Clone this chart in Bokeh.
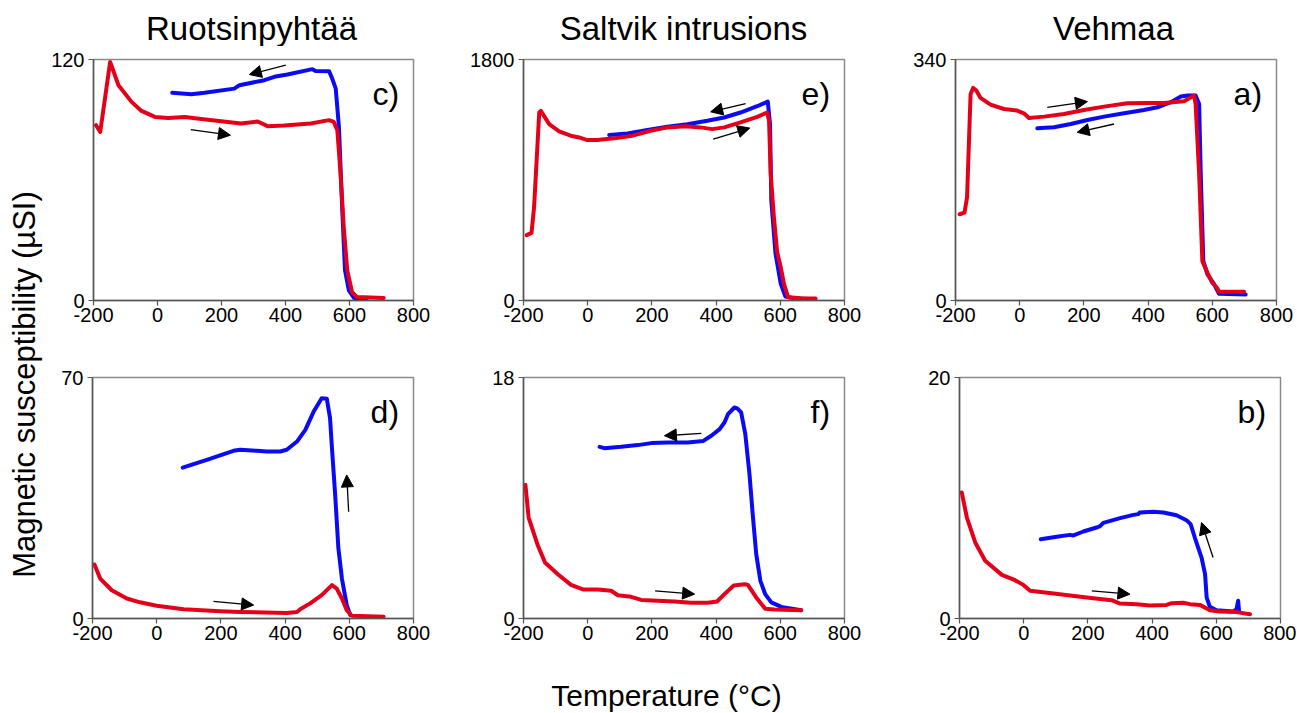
import math
from bokeh.plotting import figure
from bokeh.layouts import row, column
from bokeh.models import Range1d, FixedTicker, Arrow, NormalHead
from bokeh.core.properties import value
from bokeh.embed import file_html
from bokeh.resources import INLINE

FONT = "Liberation Sans"
RED = "#e5001a"
BLUE = "#0a0af5"

# ---------------- data (temperature °C, susceptibility µSI) ----------------
titles = ["Ruotsinpyhtää", "Saltvik intrusions", "Vehmaa"]
x_ticks = [-200, 0, 200, 400, 600, 800]

# c) Ruotsinpyhtää, top
c_heat_t = [-192, -179, -148, -122, -81, -50, -8, 33, 85, 137, 199, 261, 313, 344, 396, 479, 536, 551, 562, 572, 582, 593, 608, 624, 707]
c_heat_k = [87.3, 83.9, 118.8, 107.2, 98.9, 94.4, 91.4, 90.9, 91.4, 90.4, 89.3, 88.1, 89.1, 86.8, 87.1, 88.1, 89.8, 88.9, 84.8, 63.2, 36.6, 15.0, 4.2, 1.7, 1.3]
c_cool_t = [46, 106, 147, 240, 256, 334, 365, 406, 484, 494, 536, 546, 557, 567, 577, 586, 598, 614, 655]
c_cool_k = [103.4, 102.7, 103.4, 105.5, 107.2, 109.7, 111.4, 112.5, 115.2, 114.3, 114.2, 110.5, 105.5, 86.4, 46.5, 15.0, 5.0, 1.3, 1.2]

# e) Saltvik intrusions, top
e_heat_t = [-190, -175, -167, -151, -146, -120, -89, -53, -27, -1, 30, 82, 134, 196, 248, 305, 352, 388, 425, 476, 528, 559, 565, 570, 580, 590, 601, 611, 624, 663, 710]
e_heat_k = [488, 505, 698, 1404, 1416, 1317, 1263, 1231, 1218, 1198, 1198, 1211, 1228, 1268, 1293, 1302, 1293, 1280, 1293, 1330, 1372, 1404, 1342, 946, 624, 364, 253, 129, 25, 17, 15]
e_cool_t = [67, 124, 186, 248, 310, 373, 425, 476, 528, 554, 561, 568, 572, 585, 601, 616, 642, 705]
e_cool_k = [1236, 1248, 1273, 1297, 1317, 1342, 1367, 1404, 1451, 1478, 1486, 1317, 748, 352, 129, 30, 17, 10]

# a) Vehmaa, top
a_heat_t = [-187, -172, -164, -158, -153, -145, -135, -122, -91, -49, -8, 13, 29, 76, 138, 200, 263, 335, 398, 450, 512, 543, 548, 559, 569, 585, 600, 616, 621, 699]
a_heat_k = [121.7, 124, 145.3, 225.4, 291.4, 299.9, 296.2, 285.8, 276.4, 270.2, 267.9, 264.1, 257.5, 259.4, 263.2, 268.8, 273.5, 278.2, 278.7, 278.7, 281.1, 289.1, 277.3, 178.3, 55.6, 39.1, 25, 17, 12.3, 12.3]
a_cool_t = [55, 107, 159, 211, 263, 325, 387, 429, 471, 502, 523, 548, 559, 564, 572, 585, 606, 621, 704]
a_cool_k = [242.9, 244.3, 249, 254.7, 259.4, 264.1, 268.8, 272.6, 279.7, 287.7, 289.1, 289.1, 277.3, 178.3, 55.6, 36.8, 22.6, 9.4, 8.5]

# d) Ruotsinpyhtää, bottom
d_heat_t = [-194, -176, -140, -93, -52, 0, 84, 198, 260, 405, 437, 447, 478, 514, 546, 561, 577, 592, 608, 707]
d_heat_k = [15.7, 11.6, 8.2, 5.8, 4.7, 3.7, 2.7, 2.1, 1.9, 1.6, 1.9, 2.7, 4.4, 6.8, 9.7, 8.7, 5.8, 2.4, 0.8, 0.5]
d_cool_t = [81, 156, 239, 260, 312, 343, 385, 405, 437, 463, 489, 514, 530, 540, 546, 556, 566, 577, 592, 603]
d_cool_k = [43.8, 46.1, 48.7, 49.0, 48.7, 48.5, 48.5, 49.0, 51.4, 54.8, 60.1, 64.0, 63.8, 58.2, 49.4, 35.9, 20.4, 11.6, 3.9, 1.0]

# f) Saltvik intrusions, bottom
f_heat_t = [-194, -184, -155, -133, -93, -52, -15, 32, 73, 94, 135, 167, 270, 322, 374, 403, 426, 455, 489, 499, 525, 553, 582, 665]
f_heat_k = [9.98, 7.54, 5.43, 4.18, 3.31, 2.51, 2.17, 2.17, 2.07, 1.74, 1.62, 1.39, 1.27, 1.17, 1.17, 1.27, 1.82, 2.47, 2.56, 2.51, 1.57, 0.72, 0.67, 0.62]
f_cool_t = [37, 52, 104, 156, 198, 250, 312, 359, 385, 411, 426, 437, 457, 466, 478, 491, 504, 514, 525, 538, 553, 572, 603, 665]
f_cool_k = [12.82, 12.72, 12.82, 12.95, 13.1, 13.15, 13.15, 13.25, 13.65, 14.14, 14.64, 15.26, 15.76, 15.69, 15.39, 13.77, 10.78, 7.79, 4.81, 2.81, 1.82, 1.2, 0.87, 0.62]

# b) Vehmaa, bottom
b_heat_t = [-193, -177, -151, -120, -68, -27, -1, 20, 93, 196, 274, 300, 352, 393, 445, 461, 497, 518, 549, 580, 611, 663, 705]
b_heat_k = [10.46, 8.38, 6.31, 4.79, 3.62, 3.18, 2.79, 2.3, 2.07, 1.74, 1.52, 1.24, 1.19, 1.08, 1.13, 1.27, 1.3, 1.19, 1.13, 0.69, 0.58, 0.53, 0.36]
b_cool_t = [53, 103, 144, 155, 186, 227, 238, 248, 300, 342, 357, 362, 404, 435, 476, 507, 520, 533, 554, 565, 570, 580, 601, 653, 663, 668, 671]
b_cool_k = [6.58, 6.78, 6.94, 6.89, 7.22, 7.55, 7.66, 7.94, 8.33, 8.6, 8.66, 8.8, 8.85, 8.8, 8.57, 8.16, 7.83, 6.72, 5.06, 3.68, 1.74, 0.97, 0.69, 0.58, 0.77, 1.47, 0.58]

y_max = {"c": 120, "e": 1800, "a": 340, "d": 70, "f": 18, "b": 20}

# arrow annotations (x0, y0, x1, y1) in data units
arrows = {
    "c": [(401, 117.2, 287, 112.5), (104, 85.1, 228, 82.3)],
    "e": [(492, 1471, 383, 1409), (391, 1206, 505, 1288)],
    "a": [(86, 272.6, 211, 280.6), (294, 249, 179, 237.2)],
    "d": [(177, 5.0, 302, 3.9), (598, 31, 592, 41.7)],
    "f": [(354, 13.82, 239, 13.65), (210, 2.07, 333, 1.82)],
    "b": [(212, 2.3, 331, 2.02), (590, 5.06, 554, 7.97)],
}


def panel(letter, heat_t, heat_k, cool_t, cool_k, width, height, bl, br, bt, bb):
    ymax = y_max[letter]
    p = figure(width=width, height=height, x_range=Range1d(-200, 800), y_range=Range1d(0, ymax),
               output_backend="svg", toolbar_location=None,
               min_border_left=bl, min_border_right=br, min_border_top=bt, min_border_bottom=bb)
    p.grid.visible = False
    p.outline_line_color = "#8a8a8a"
    p.outline_line_width = 1.5
    for ax in (p.xaxis[0], p.yaxis[0]):
        ax.axis_line_color = "#555555"
        ax.axis_line_width = 1.5
        ax.major_tick_line_color = "#555555"
        ax.major_tick_line_width = 1.2
        ax.major_tick_in = 0
        ax.major_tick_out = 5
        ax.minor_tick_line_color = None
        ax.major_label_text_font = FONT
        ax.major_label_text_font_size = "20px"
        ax.major_label_text_color = "black"
    p.xaxis.ticker = FixedTicker(ticks=x_ticks)
    p.xaxis.major_label_overrides = {t: str(t) for t in x_ticks}
    p.xaxis.major_label_standoff = 2
    p.yaxis.ticker = FixedTicker(ticks=[0, ymax])
    p.yaxis.major_label_standoff = 4

    p.line(cool_t, cool_k, line_color=BLUE, line_width=4, line_join="round", line_cap="round")
    p.line(heat_t, heat_k, line_color=RED, line_width=4, line_join="round", line_cap="round")

    for (x0, y0, x1, y1) in arrows[letter]:
        p.add_layout(Arrow(x_start=x0, y_start=y0, x_end=x1, y_end=y1,
                           line_color="black", line_width=1.3,
                           end=NormalHead(size=12, fill_color="black", line_color="black", line_width=1)))

    p.text(x=[755], y=[ymax * 0.858], text=[letter + ")"], text_align="right",
           text_baseline="alphabetic", text_font=value(FONT), text_font_size="32px",
           text_color="black")
    return p


pc = panel("c", c_heat_t, c_heat_k, c_cool_t, c_cool_k, 417, 292, 44, 52, 13, 38)
pe = panel("e", e_heat_t, e_heat_k, e_cool_t, e_cool_k, 435, 292, 58, 56, 13, 38)
pa = panel("a", a_heat_t, a_heat_k, a_cool_t, a_cool_k, 396, 292, 55, 20, 13, 38)
pd = panel("d", d_heat_t, d_heat_k, d_cool_t, d_cool_k, 417, 320, 44, 52, 39, 40)
pf = panel("f", f_heat_t, f_heat_k, f_cool_t, f_cool_k, 435, 320, 58, 56, 39, 40)
pb = panel("b", b_heat_t, b_heat_k, b_cool_t, b_cool_k, 396, 320, 59, 16, 39, 40)


def strip(w, h):
    s = figure(width=w, height=h, x_range=Range1d(0, w), y_range=Range1d(0, h),
               output_backend="svg", toolbar_location=None, min_border=0,
               x_axis_location=None, y_axis_location=None)
    s.grid.visible = False
    s.outline_line_color = None
    return s


TOTAL_H = 712

ystrip = strip(48, TOTAL_H)
ystrip.text(x=[24], y=[TOTAL_H - 384], text=["Magnetic susceptibility (µSI)"], angle=math.pi / 2,
            text_align="center", text_baseline="alphabetic", text_font=value(FONT),
            text_font_size="31px", text_color="black")

tstrip = strip(1248, 46)
tstrip.text(x=[203, 635, 1065], y=[18, 18, 18], text=titles, text_align="center",
            text_baseline="alphabetic", text_font=value(FONT), text_font_size="33px",
            text_color="black")

xstrip = strip(1248, 54)
xstrip.text(x=[618], y=[17], text=["Temperature (°C)"], text_align="center",
            text_baseline="alphabetic", text_font=value(FONT), text_font_size="30px",
            text_color="black")

layout = row(ystrip, column(tstrip, row(pc, pe, pa), row(pd, pf, pb), xstrip))

open("out.html", "w").write(file_html(layout, INLINE))
